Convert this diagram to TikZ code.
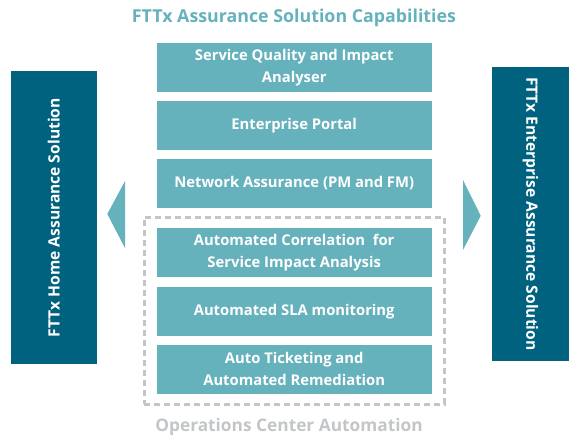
\documentclass[tikz,border=0pt]{standalone}
\usepackage{fontspec}
\setmainfont{Open Sans}
\definecolor{capteal}{HTML}{65B1BC}
\definecolor{soldark}{HTML}{00627F}
\definecolor{autogray}{HTML}{C3C6C8}
\tikzset{
  capbox/.style={fill=capteal, text=white, minimum width=275pt, minimum height=49pt,
    inner sep=0pt, align=center, font=\bfseries\fontsize{14.8}{22}\selectfont},
  solbox/.style={fill=soldark, text=white, minimum width=86pt, inner sep=0pt},
  soltext/.style={text=white, font=\bfseries\fontsize{15.6}{18}\selectfont},
  sidearrow/.style={fill=capteal, draw=none},
}
\begin{document}
\begin{tikzpicture}[x=1pt, y=-1pt]
			%%%%% frame %%%%%
			\useasboundingbox (0, 0) rectangle (569, 436);
			
			\node[text=capteal, font=\bfseries\fontsize{17.8}{20}\selectfont] (title) at (294, 18) {FTTx Assurance Solution Capabilities};
			
			%%%%% capability boxes %%%%%
			\node[capbox] (sqia) at (294.2, 67.2) {Service Quality and Impact\\Analyser};
			\node[capbox] (portal) at (294.2, 125.5) {Enterprise Portal};
			\node[capbox] (netas) at (294.2, 183.3) {Network Assurance (PM and FM)};
			
			\node[draw=autogray, line width=3pt, dash pattern=on 6pt off 4pt, minimum width=300pt, minimum height=187pt, inner sep=0pt] (ops) at (294.2, 310.5) {};
			\node[capbox] (corr) at (294.2, 252.3) {Automated Correlation\ \ for\\Service Impact Analysis};
			\node[capbox] (sla) at (294.2, 311.5) {Automated SLA monitoring};
			\node[capbox] (ticket) at (294.2, 369.2) {Auto Ticketing and\\Automated Remediation};
			
			\node[text=autogray, font=\bfseries\fontsize{17.3}{20}\selectfont] (opslbl) at (289, 426.5) {Operations Center Automation};
			
			%%%%% solutions %%%%%
			\node[solbox, minimum height=293pt] (home) at (53.8, 217.7) {};
			\node[soltext, rotate=90] at (home.center) {FTTx Home Assurance Solution};
			\node[solbox, minimum height=294pt, minimum width=77pt] (ent) at (530.5, 213.8) {};
			\node[soltext, rotate=-90] at (ent.center) {FTTx Enterprise Assurance Solution};
			
			\draw[sidearrow] (125, 181) -- (107.3, 214) -- (125, 248) -- cycle;
			\draw[sidearrow] (463, 180) -- (480.7, 215.7) -- (463, 250) -- cycle;
			
			%%%%% END %%%%%
\end{tikzpicture}
\end{document}
